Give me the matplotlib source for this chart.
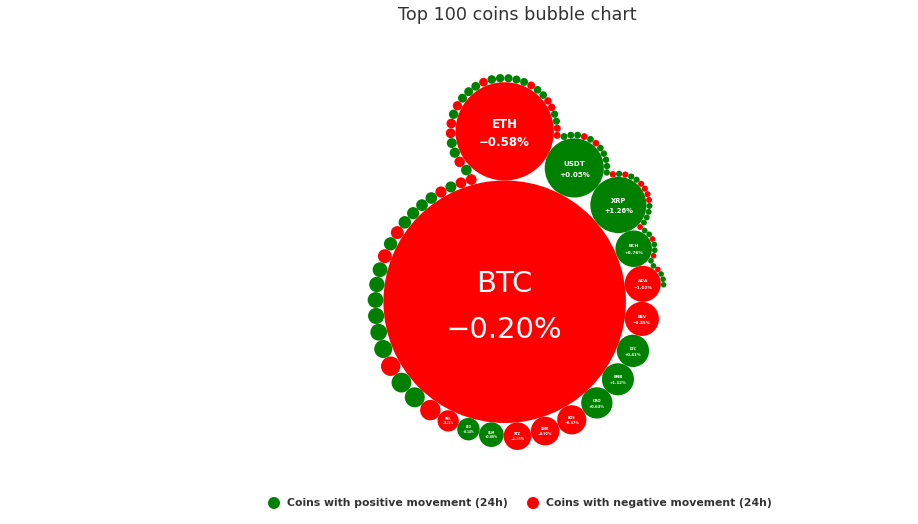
import math
import matplotlib
matplotlib.use("Agg")
import matplotlib.pyplot as plt
from matplotlib.patches import Circle

# ---------------- data ----------------
names = ["BTC", "ETH", "USDT", "XRP", "BCH", "ADA", "BSV", "LTC", "BNB", "CRO",
         "EOS", "LINK", "XTZ", "XLM", "LEO", "XMR", "TRX", "HT", "ETC", "NEO",
         "VET", "USDC", "ATOM", "DASH", "MIOTA", "XEM", "ZEC", "ONT", "MKR", "DOGE",
         "BAT", "ALGO", "DGB", "ZRX", "OMG", "THETA", "SNX", "ICX", "QTUM", "LEND",
         "KNC", "REP", "DAI", "BTG", "HEDG", "KCS", "LSK", "HBAR", "SC", "ZIL",
         "WAVES", "NANO", "BCD", "XVG", "EGLD", "AMPL", "SXP", "RVN", "BTT", "ENJ",
         "CELO", "OKB", "DCR", "STEEM", "HOT", "NEXO", "ZB", "BTM", "MONA", "SEELE",
         "ABBC", "IOST", "KMD", "XZC", "ARDR", "MCO", "MAID", "PAX", "TUSD", "LUNA",
         "QNT", "BNT", "REN", "STX", "ANT", "WAXP", "NMR", "CKB", "ELF", "ENG",
         "GNT", "MANA", "BAND", "RLC", "SNT", "IOTX", "ZEN", "DX", "CHZ", "OCEAN"]

market_cap_bn = [170.0, 27.9, 10.1, 9.10, 3.85, 3.76, 3.36, 3.01, 2.97, 2.83,
                 2.46, 2.37, 2.21, 1.76, 1.46, 1.31, 1.20, 1.15, 1.13, 1.09,
                 0.945, 0.809, 0.755, 0.720, 0.686, 0.635, 0.557, 0.512, 0.483, 0.455,
                 0.428, 0.401, 0.389, 0.364, 0.352, 0.339, 0.335, 0.328, 0.318, 0.302,
                 0.290, 0.279, 0.268, 0.257, 0.246, 0.235, 0.230, 0.225, 0.220, 0.215,
                 0.205, 0.195, 0.186, 0.181, 0.177, 0.172, 0.168, 0.163, 0.159, 0.155,
                 0.150, 0.146, 0.142, 0.140, 0.137, 0.135, 0.133, 0.130, 0.128, 0.126,
                 0.123, 0.121, 0.119, 0.117, 0.116, 0.1145, 0.113, 0.1116, 0.110, 0.1087,
                 0.1073, 0.1059, 0.1045, 0.1031, 0.1017, 0.1004, 0.0990, 0.0977, 0.0970, 0.0963,
                 0.0957, 0.0950, 0.0943, 0.0937, 0.0930, 0.0923, 0.0917, 0.0910, 0.0904, 0.0897]

change_24h = [-0.20, -0.58, 0.05, 1.26, 0.76, -1.02, -0.85, 0.41, 1.12, 0.63,
              -0.47, -0.92, -1.35, 0.88, 2.14, -0.31, -0.66, 1.47, 0.29, -1.73,
              0.95, 3.12, 0.54, 1.88, 0.17, 2.46, -0.74, 1.05, -2.21, 0.36,
              4.08, 0.72, 1.61, -0.49, 2.77, -1.18, -0.83, 1.94, -0.57, 0.68,
              3.45, -1.29, -0.41, 0.99, -2.63, 1.37, 0.22, 5.16, -0.95, 0.81,
              1.73, 0.46, 2.08, 0.12, -1.54, 3.69, 0.58, -0.36, -3.02, 1.21,
              0.77, -0.68, -1.11, 2.35, 0.49, 1.66, -0.89, 0.31, -2.47, 4.52,
              0.93, 1.08, 0.64, 2.91, -0.72, 1.43, -1.96, 0.27, 3.84, -0.53,
              -1.37, -4.15, -0.61, 0.85, 1.52, 0.39, 6.21, -0.98, 1.17, 0.56,
              -2.04, 0.73, 2.62, -1.46, 0.18, 1.89, -0.44, 3.27, 0.61, 1.34]

title = "Top 100 coins bubble chart"
legend_labels = ["Coins with positive movement (24h)", "Coins with negative movement (24h)"]
POS_COLOR = "#008000"
NEG_COLOR = "#ff0000"
LABEL_MIN_CAP = 1.25   # only bubbles above this market cap get a label


# ---------------- packed bubble layout (spiral placement) ----------------
def position_bubble(last, origin, r_new):
    dist = math.hypot(last[0] - origin[0], last[1] - origin[1])
    c = (dist ** 2 + (r_new + origin[2]) ** 2 - (r_new + last[2]) ** 2) / \
        (2 * (r_new + origin[2]) * dist)
    alfa = math.acos(max(-1.0, min(1.0, c)))
    beta = math.asin(max(-1.0, min(1.0, abs(last[0] - origin[0]) / dist)))
    gamma = 0.0 if (last[1] - origin[1]) < 0 else math.pi
    delta = 1 if (last[0] - origin[0]) * (last[1] - origin[1]) < 0 else -1
    ang = gamma + alfa + beta * delta
    R = origin[2] + r_new
    return [origin[0] + R * math.sin(ang), origin[1] - R * math.cos(ang), r_new]


def overlap(b1, b2):
    return math.hypot(b1[0] - b2[0], b1[1] - b2[1]) - abs(b1[2] + b2[2]) < -0.001


def place_bubbles(radii):
    order = sorted(range(len(radii)), key=lambda i: -radii[i])
    pos = {}
    r0, r1 = radii[order[0]], radii[order[1]]
    stages = [[[0.0, 0.0, r0]], [[0.0, -(r0 + r1), r1]]]
    pos[order[0]] = stages[0][0]
    pos[order[1]] = stages[1][0]
    stage, j, k = 1, 0, 0
    for idx in order[2:]:
        r = radii[idx]
        calc = position_bubble(stages[stage][j], stages[stage - 1][k], r)
        if overlap(calc, stages[stage][0]):
            stages.append([])
            k = 0
            b = position_bubble(stages[stage][j], stages[stage][0], r)
            stages[stage + 1].append(b)
            stage += 1
            j = 0
        elif stage > 1 and k + 1 < len(stages[stage - 1]) and \
                overlap(calc, stages[stage - 1][k + 1]):
            k += 1
            b = position_bubble(stages[stage][j], stages[stage - 1][k], r)
            stages[stage].append(b)
            j += 1
        else:
            b = calc
            j += 1
            stages[stage].append(b)
        pos[idx] = b
    return [pos[i] for i in range(len(radii))]


radii = [math.sqrt(v) for v in market_cap_bn]
bubbles = place_bubbles(radii)

minx = min(b[0] - b[2] for b in bubbles)
maxx = max(b[0] + b[2] for b in bubbles)
miny = min(b[1] - b[2] for b in bubbles)
maxy = max(b[1] + b[2] for b in bubbles)

# ---------------- figure ----------------
W, H = 918, 524
fig = plt.figure(figsize=(W / 100, H / 100), dpi=100)
fig.patch.set_facecolor("white")

# plot area (pixels) where the bubble cluster is fitted
plot_top, plot_bottom, plot_cx = 74.0, 450.0, 517.0
s = (plot_bottom - plot_top) / (maxy - miny)       # pixels per layout unit
cx = (minx + maxx) / 2

ax = fig.add_axes([0, 0, 1, 1])
ax.set_xlim(cx - plot_cx / s, cx + (W - plot_cx) / s)
top_lim = miny - plot_top / s
ax.set_ylim(top_lim + H / s, top_lim)
ax.axis("off")

for (x, y, r), c, name, cap in zip(bubbles, change_24h, names, market_cap_bn):
    col = POS_COLOR if c >= 0 else NEG_COLOR
    ax.add_patch(Circle((x, y), r, facecolor=col, edgecolor="none", zorder=2))
    if cap >= LABEL_MIN_CAP:
        fs_px = 0.24 * r * s
        weight = "normal" if fs_px > 16 else "bold"
        sign = "+" if c >= 0 else "\u2212"
        ax.text(x, y - 0.32 * fs_px / s, name, color="white", fontsize=fs_px * 0.72,
                fontweight=weight, ha="center", va="baseline", zorder=3,
                family="DejaVu Sans")
        ax.text(x, y + 1.26 * fs_px / s, f"{sign}{abs(c):.2f}%", color="white",
                fontsize=fs_px * 0.72, fontweight=weight, ha="center", va="baseline",
                zorder=3, family="DejaVu Sans")

# overlay in pixel coordinates for title and legend
ov = fig.add_axes([0, 0, 1, 1])
ov.set_xlim(0, W)
ov.set_ylim(H, 0)
ov.axis("off")
ov.patch.set_alpha(0)

ov.text(plot_cx, 20.5, title, ha="center", va="baseline", fontsize=12.7,
        color="#333333", family="DejaVu Sans")

legend_x = [274, 533]
legend_y = 503
for lx, lab, col in zip(legend_x, legend_labels, [POS_COLOR, NEG_COLOR]):
    ov.add_patch(Circle((lx, legend_y), 6, facecolor=col, edgecolor="none"))
    ov.text(lx + 13, legend_y, lab, ha="left", va="center", fontsize=7.8,
            fontweight="bold", color="#333333", family="DejaVu Sans")

fig.savefig("out.png", dpi=100)
